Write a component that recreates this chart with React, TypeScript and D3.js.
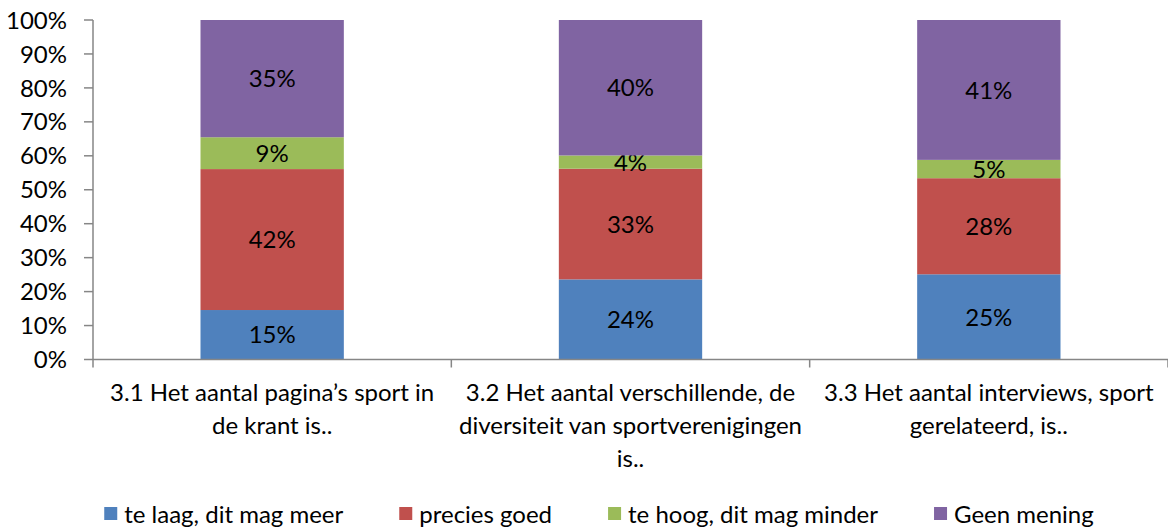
import React, { useEffect, useRef } from "react";
import * as d3 from "d3";

const categories = ["3.1", "3.2", "3.3"];
const categoryLines = [
  ["3.1 Het aantal pagina’s sport in", "de krant is.."],
  ["3.2 Het aantal verschillende, de", "diversiteit van sportverenigingen", "is.."],
  ["3.3 Het aantal interviews, sport", "gerelateerd, is.."],
];
const seriesNames = ["te laag, dit mag meer", "precies goed", "te hoog, dit mag minder", "Geen mening"];
const seriesColors = ["#4F81BD", "#C0504D", "#9BBB59", "#8064A2"];
const teLaag = [14.6, 23.6, 25.1];
const preciesGoed = [41.6, 32.6, 28.3];
const teHoog = [9.4, 3.9, 5.4];
const geenMening = [34.6, 39.9, 41.2];
const yTicks = [0, 0.1, 0.2, 0.3, 0.4, 0.5, 0.6, 0.7, 0.8, 0.9, 1.0];

const W = 1168;
const H = 529;
const FONT = "Lato, 'Open Sans', sans-serif";
const FS = 24;

export default function App() {
  const ref = useRef<SVGSVGElement>(null);
  useEffect(() => {
    const svg = d3.select(ref.current);
    svg.selectAll("*").remove();
    const left = 93, right = 1168, top = 20, bottom = 359.5;
    const x = d3.scaleBand<string>().domain(categories).range([left, right]).paddingInner(0.6).paddingOuter(0.3);
    const y = d3.scaleLinear().domain([0, 1]).range([bottom, top]);
    const rows = categories.map((c, i) => {
      const vals = [teLaag[i], preciesGoed[i], teHoog[i], geenMening[i]];
      const tot = d3.sum(vals);
      const o: any = { cat: c };
      vals.forEach((v, k) => (o["s" + k] = v / tot));
      o.raw = vals;
      return o;
    });
    const keys = ["s0", "s1", "s2", "s3"];
    const stacked = d3.stack<any>().keys(keys)(rows);
    const axisColor = "#868686";

    // bars
    stacked.forEach((layer, k) => {
      const g = svg.append("g");
      layer.forEach((d, i) => {
        g.append("rect")
          .attr("x", x(categories[i])!)
          .attr("width", x.bandwidth())
          .attr("y", y(d[1]))
          .attr("height", y(d[0]) - y(d[1]))
          .attr("fill", seriesColors[k]);
        const raw = rows[i].raw[k];
        g.append("text")
          .attr("x", x(categories[i])! + x.bandwidth() / 2)
          .attr("y", (y(d[0]) + y(d[1])) / 2)
          .attr("dy", "0.36em")
          .attr("text-anchor", "middle")
          .attr("font-family", FONT)
          .attr("font-size", FS)
          .attr("fill", "#000")
          .text(Math.round(raw) + "%");
      });
    });

    // y axis
    svg.append("line").attr("x1", left).attr("x2", left).attr("y1", top).attr("y2", bottom).attr("stroke", axisColor).attr("stroke-width", 1.5);
    yTicks.forEach((t) => {
      svg.append("line").attr("x1", left - 9).attr("x2", left).attr("y1", y(t)).attr("y2", y(t)).attr("stroke", axisColor).attr("stroke-width", 1.5);
      svg.append("text")
        .attr("x", 67)
        .attr("y", y(t))
        .attr("dy", "0.36em")
        .attr("text-anchor", "end")
        .attr("font-family", FONT)
        .attr("font-size", FS)
        .attr("fill", "#000")
        .text(Math.round(t * 100) + "%");
    });

    // x axis
    svg.append("line").attr("x1", left).attr("x2", right).attr("y1", bottom).attr("y2", bottom).attr("stroke", axisColor).attr("stroke-width", 1.5);
    const step = x.step();
    const boundaries = categories.map((c) => x(c)! - step * 0.3).concat([right]);
    boundaries.forEach((bx) => {
      svg.append("line").attr("x1", bx).attr("x2", bx).attr("y1", bottom).attr("y2", bottom + 8).attr("stroke", axisColor).attr("stroke-width", 1.5);
    });
    categories.forEach((c, i) => {
      const cx = x(c)! + x.bandwidth() / 2;
      categoryLines[i].forEach((line, j) => {
        svg.append("text")
          .attr("x", cx)
          .attr("y", 392 + j * 33)
          .attr("dy", "0.36em")
          .attr("text-anchor", "middle")
          .attr("font-family", FONT)
          .attr("font-size", FS)
          .attr("fill", "#000")
          .text(line);
      });
    });

    // legend
    const lg = svg.append("g");
    let cur = 0;
    seriesNames.forEach((name, k) => {
      const gi = lg.append("g").attr("transform", `translate(${cur},0)`);
      gi.append("rect").attr("x", 0).attr("y", 507).attr("width", 13).attr("height", 13).attr("fill", seriesColors[k]);
      const t = gi.append("text")
        .attr("x", 20)
        .attr("y", 514)
        .attr("dy", "0.36em")
        .attr("font-family", FONT)
        .attr("font-size", FS)
        .attr("fill", "#000")
        .text(name);
      const w = (t.node() as SVGTextElement).getComputedTextLength();
      cur += 20 + w + (k < seriesNames.length - 1 ? 56 : 0);
    });
    const startX = (105 + 1093) / 2 - cur / 2;
    lg.attr("transform", `translate(${startX},0)`);
  }, []);
  return (
    <svg ref={ref} width={W} height={H} style={{ position: "absolute", left: 0, top: 0, background: "#fff" }} />
  );
}
